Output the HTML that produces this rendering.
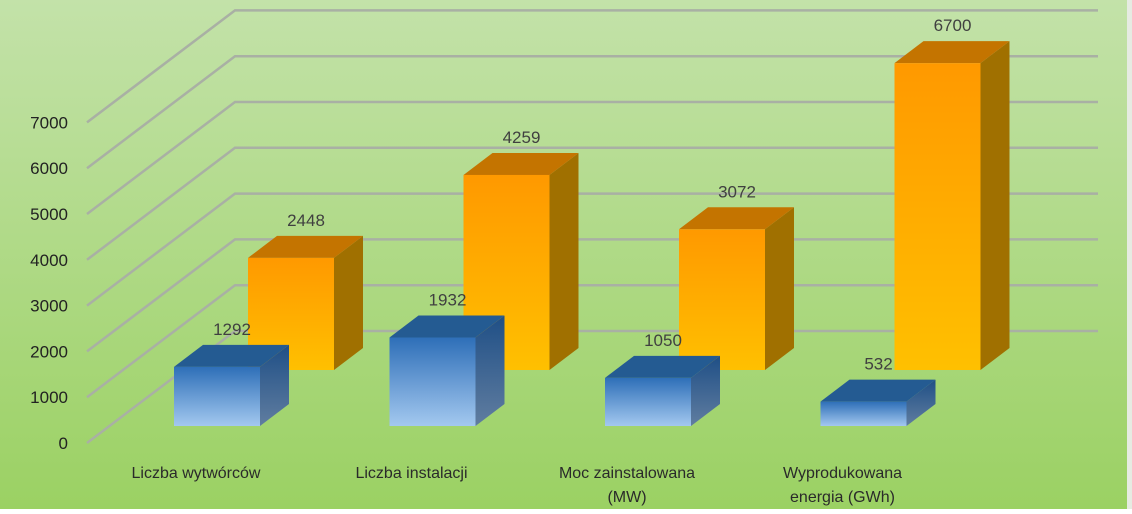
<!DOCTYPE html>
<html><head><meta charset="utf-8"><style>
html,body{margin:0;padding:0;}
body{width:1132px;height:509px;overflow:hidden;font-family:"Liberation Sans",sans-serif;}
</style></head><body>
<svg id="chart" width="1132" height="509" xmlns="http://www.w3.org/2000/svg">
<defs>
<linearGradient id="bg" x1="0" y1="0" x2="0" y2="1"><stop offset="0" stop-color="#c3e2a9"/><stop offset="1" stop-color="#9bd163"/></linearGradient>
<linearGradient id="blueF" x1="0" y1="0" x2="0" y2="1"><stop offset="0" stop-color="#2e6fb8"/><stop offset="1" stop-color="#a3c8ef"/></linearGradient>
<linearGradient id="blueS" x1="0" y1="0" x2="0" y2="1"><stop offset="0" stop-color="#1f4f86"/><stop offset="1" stop-color="#607da0"/></linearGradient>
<linearGradient id="orF" x1="0" y1="0" x2="0" y2="1"><stop offset="0" stop-color="#ff9900"/><stop offset="1" stop-color="#ffc000"/></linearGradient>
</defs>
<rect x="0" y="0" width="1132" height="509" fill="url(#bg)"/>
<rect x="1127" y="0" width="5" height="509" fill="#e6ebe2"/>
<g id="grid"></g><g id="yt"></g><g id="bars"></g><g id="cats"></g>
</svg>
<script>
const categories = [["Liczba wytwórców"],["Liczba instalacji"],["Moc zainstalowana","(MW)"],["Wyprodukowana","energia (GWh)"]];
const series1 = [1292, 1932, 1050, 532];
const series2 = [2448, 4259, 3072, 6700];
const ticks = [0,1000,2000,3000,4000,5000,6000,7000];
const NS="http://www.w3.org/2000/svg";
const y0=443, ppu=45.8/1000, bdx=148, bdy=-112, ddx=29, ddy=-22, bw=86;
function yv(v){return v*ppu;}
function mk(t,a,p){const e=document.createElementNS(NS,t);for(const k in a)e.setAttribute(k,a[k]);p.appendChild(e);return e;}
const grid=document.getElementById('grid'), yt=document.getElementById('yt'), bars=document.getElementById('bars'), cats=document.getElementById('cats');
ticks.forEach(t=>{
  const y=y0-yv(t);
  const pl=mk('polyline',{points:`87,${y} ${87+bdx},${y+bdy} 1098,${y+bdy}`,fill:'none',stroke:'#a9b0a4','stroke-width':2.5},grid);
  
  
  const tx=mk('text',{x:68,y:y+6,'text-anchor':'end','font-size':17,fill:'#222'},yt);
  tx.textContent=t;
  
  
});
function bar(x,base,v,front,top,side,name,labelY){
  const h=yv(v), yt_=base-h;
  const g=mk('g',{},bars);
  
  
  mk('polygon',{points:`${x+bw},${base} ${x+bw+ddx},${base+ddy} ${x+bw+ddx},${yt_+ddy} ${x+bw},${yt_}`,fill:side},g);
  mk('polygon',{points:`${x},${yt_} ${x+ddx},${yt_+ddy} ${x+bw+ddx},${yt_+ddy} ${x+bw},${yt_}`,fill:top},g);
  mk('rect',{x:x,y:yt_,width:bw,height:h,fill:front},g);
  const t=mk('text',{x:x+bw/2+15,y:yt_+ddy-10,'text-anchor':'middle','font-size':17,fill:'#404040'},bars);
  t.textContent=v;
  
  
}
const step=215.5;
series2.forEach((v,i)=>bar(248+i*step,370,v,'url(#orF)','#c47400','#a07000','bar-orange-'+i));
series1.forEach((v,i)=>bar(174+i*step,426,v,'url(#blueF)','#245b92','url(#blueS)','bar-blue-'+i));
categories.forEach((c,i)=>{
  const t=mk('text',{x:196+i*step,y:478,'text-anchor':'middle','font-size':16,fill:'#2a2a2a'},cats);
  
  
  c.forEach((line,j)=>{const s=mk('tspan',{x:196+i*step+(c.length>1&&j==1?0:0),dy:j?24:0},t);s.textContent=line;});
});
</script>
</body></html>
